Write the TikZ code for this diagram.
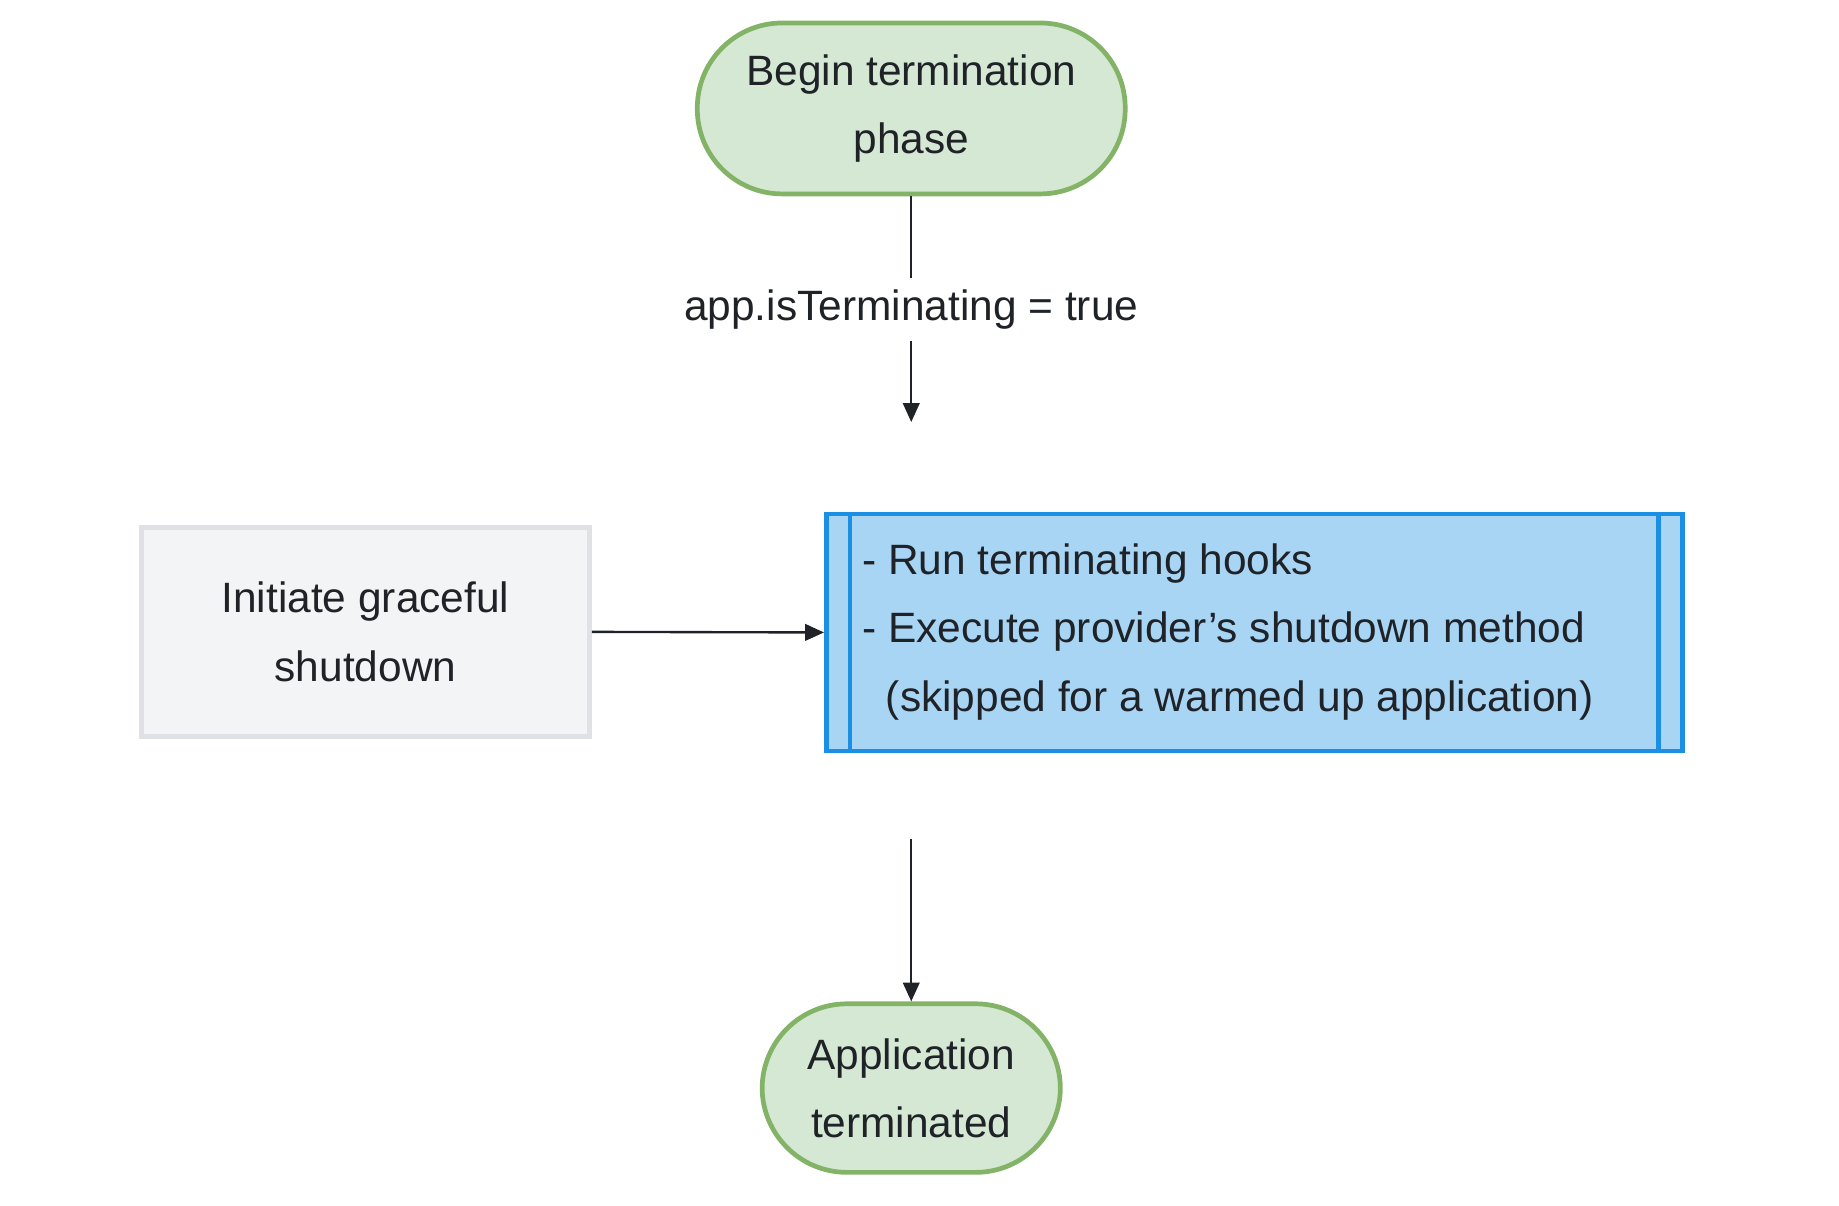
\documentclass[tikz,border=0pt]{standalone}
\usepackage{fontspec}
\setmainfont{Liberation Sans}
\usetikzlibrary{arrows.meta}
\definecolor{gfill}{HTML}{D5E8D4}\definecolor{gline}{HTML}{82B366}
\definecolor{bfill}{HTML}{A9D5F5}\definecolor{bline}{HTML}{1A8FE3}
\definecolor{sfill}{HTML}{F3F4F6}\definecolor{sline}{HTML}{DFE1E5}
\definecolor{txt}{HTML}{1F2328}
\begin{document}
\begin{tikzpicture}[x=1pt,y=-1pt,
  every node/.style={font=\fontsize{36}{58}\selectfont,text=txt},
  term/.style={rounded corners=72pt,fill=gfill,draw=gline,line width=4pt,align=center},
  arr/.style={draw=txt,line width=2pt,-{Triangle[length=16pt,width=14pt]}}]
\useasboundingbox (0,0) rectangle (1560,1023);
\node[term,minimum width=363pt,minimum height=145pt] (b) at (773,92) {Begin termination\\phase};
\node[term,minimum width=253pt,minimum height=143pt] (a) at (773,923) {Application\\terminated};
\node[fill=sfill,draw=sline,line width=4pt,minimum width=380pt,minimum height=177pt,align=center] (i) at (310,536) {Initiate graceful\\shutdown};
\node[fill=bfill,draw=bline,line width=4pt,minimum width=726pt,minimum height=201pt] (p) at (1064,536.5) {};
\draw[bline,line width=4pt] (721,436) -- (721,637) (1407,436) -- (1407,637);
\node[anchor=west,align=left] (t) at (728,536) {- Run terminating hooks\\- Execute provider's shutdown method\\\ \ (skipped for a warmed up application)};
\coordinate (c1) at (773,358);
\coordinate (c2) at (773,712);
\draw[arr] (b) -- node[fill=white,inner ysep=10pt] {app.isTerminating = true} (c1);
\draw[arr] (i.east) -- (p.west);
\draw[arr] (c2) -- (a.north);
\end{tikzpicture}
\end{document}
